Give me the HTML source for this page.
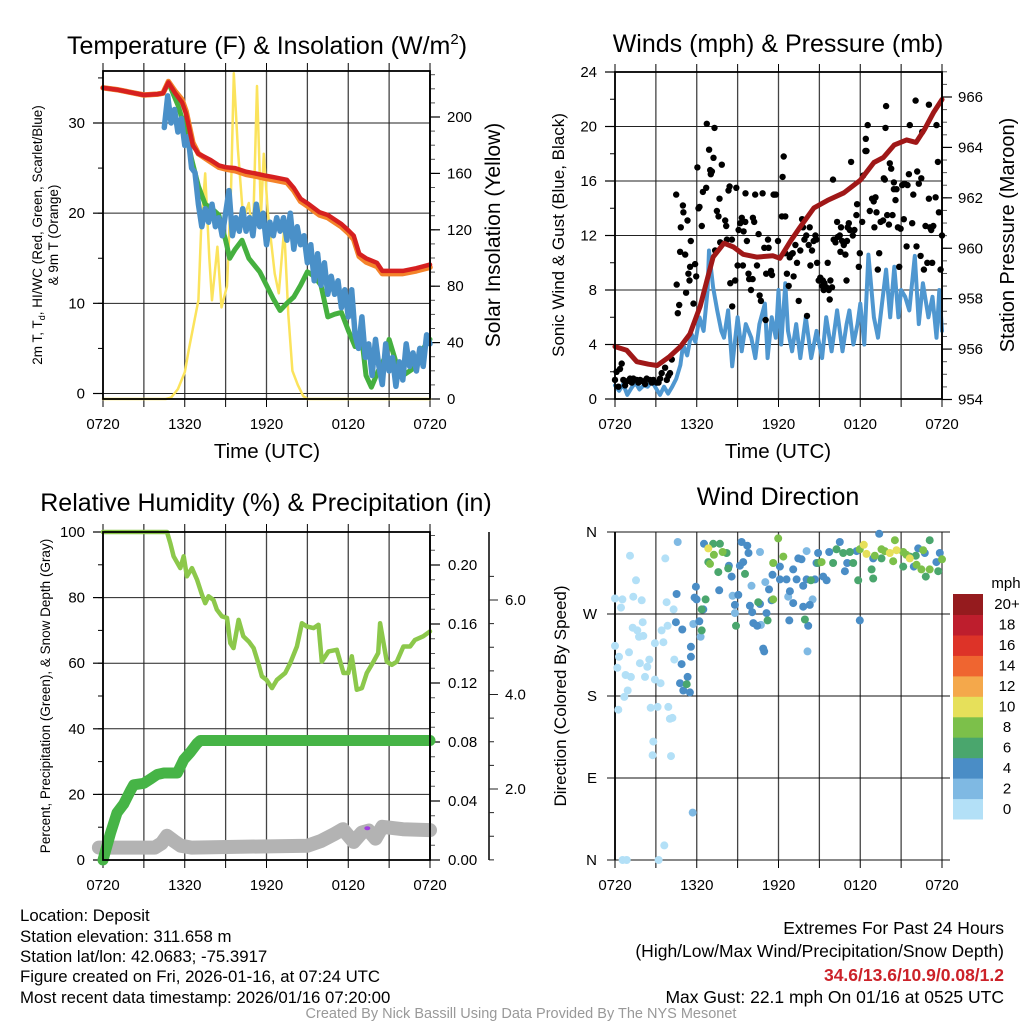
<!DOCTYPE html>
<html><head><meta charset="utf-8"><style>
html,body{margin:0;padding:0;background:#fff;}
svg{display:block;font-family:"Liberation Sans",Arial,sans-serif;}
</style></head><body>
<svg id="chart" width="1024" height="1024" viewBox="0 0 1024 1024" xmlns="http://www.w3.org/2000/svg">
<rect width="1024" height="1024" fill="#fff"/>
<g id="p1"></g>
<g id="p2"></g>
<g id="p3"></g>
<g id="p4"></g>

<text x="267" y="54" font-size="25" text-anchor="middle">Temperature (F) &amp; Insolation (W/m<tspan font-size="15" dy="-10">2</tspan><tspan dy="10">)</tspan></text>
<text x="267" y="458" font-size="20.5" text-anchor="middle">Time (UTC)</text>
<text transform="translate(42,235) rotate(-90)" font-size="13.5" text-anchor="middle">2m T, T<tspan font-size="9" dy="3">d</tspan><tspan dy="-3">, HI/WC (Red, Green, Scarlet/Blue)</tspan></text>
<text transform="translate(58,235) rotate(-90)" font-size="13.5" text-anchor="middle">&amp; 9m T (Orange)</text>
<text transform="translate(500,235) rotate(-90)" font-size="21" text-anchor="middle">Solar Insolation (Yellow)</text>

<text x="778" y="52" font-size="25" text-anchor="middle">Winds (mph) &amp; Pressure (mb)</text>
<text x="778" y="458" font-size="20.5" text-anchor="middle">Time (UTC)</text>
<text transform="translate(564,235) rotate(-90)" font-size="17" text-anchor="middle">Sonic Wind &amp; Gust (Blue, Black)</text>
<text transform="translate(1014,235) rotate(-90)" font-size="20" text-anchor="middle">Station Pressure (Maroon)</text>

<text x="266" y="511" font-size="25" text-anchor="middle">Relative Humidity (%) &amp; Precipitation (in)</text>
<text transform="translate(50,696) rotate(-90)" font-size="13.5" text-anchor="middle">Percent, Precipitation (Green), &amp; Snow Depth (Gray)</text>

<text x="778" y="505" font-size="25" text-anchor="middle">Wind Direction</text>
<text transform="translate(566,696) rotate(-90)" font-size="17" text-anchor="middle">Direction (Colored By Speed)</text>

<g font-size="16.8">
<text x="20" y="921">Location: Deposit</text>
<text x="20" y="942">Station elevation: 311.658 m</text>
<text x="20" y="962">Station lat/lon: 42.0683; -75.3917</text>
<text x="20" y="982">Figure created on Fri, 2026-01-16, at 07:24 UTC</text>
<text x="20" y="1003">Most recent data timestamp: 2026/01/16 07:20:00</text>
</g>
<g font-size="17.5" text-anchor="end">
<text x="1004" y="934">Extremes For Past 24 Hours</text>
<text x="1004" y="957">(High/Low/Max Wind/Precipitation/Snow Depth)</text>
<text x="1004" y="981" fill="#cc2229" font-weight="bold">34.6/13.6/10.9/0.08/1.2</text>
<text x="1004" y="1003">Max Gust: 22.1 mph On 01/16 at 0525 UTC</text>
</g>
<text x="521" y="1018" font-size="14.5" fill="#999" text-anchor="middle">Created By Nick Bassill Using Data Provided By The NYS Mesonet</text>
</svg>
<script>
// ---------- Panel 1 data ----------
const timeTicks = [0,6,12,18,24];
const timeTickLabels = ['0720','1320','1920','0120','0720'];
const tempTime = [0,1,2,3,4,4.4,4.8,5.3,5.8,6.1,6.6,7.0,7.9,8.5,9.0,9.7,10.5,11.2,11.8,12.5,13.5,14.0,14.5,15.0,15.9,16.5,17.0,17.5,18.0,18.4,18.8,19.3,20.1,20.5,21.0,22.0,23.0,24.0];
const temp2m = [33.9,33.7,33.4,33.1,33.2,33.3,34.5,33.3,32.3,31.0,27.5,26.6,25.9,25.3,25.1,25.0,24.6,24.4,24.2,24.0,23.7,22.8,21.6,21.1,20.1,19.8,19.3,18.8,18.1,17.5,15.5,15.0,14.5,13.6,13.6,13.6,13.9,14.3];
const temp9m = [33.9,33.7,33.4,33.1,33.2,33.3,34.6,33.5,32.6,31.3,27.8,26.6,25.7,25.1,24.9,24.7,24.3,24.1,23.9,23.7,23.4,22.5,21.3,20.8,19.8,19.5,19.0,18.5,17.8,17.1,15.2,14.6,14.1,13.3,13.3,13.3,13.6,14.0];
const dewTime = [0,1,2,3,4,4.4,4.8,5.5,6.0,6.5,7.0,7.5,8.0,8.5,9.0,9.3,9.7,10.2,10.7,11.5,12.0,12.5,13.0,13.5,14.0,14.5,15.0,15.5,16.0,16.5,17.0,17.5,18.0,18.5,19.0,19.3,19.7,20.2,20.7,21.0,21.5,22.0,22.5,23.0,23.5,24.0];
const dewPoint = [33.9,33.7,33.4,33.1,33.2,33.3,34.5,32.0,29.5,26.0,23.0,21.0,20.5,19.8,17.0,15.0,16.0,17.0,15.0,13.5,12.0,10.5,9.2,10.0,10.7,12.0,13.5,13.0,12.0,8.5,8.8,9.0,7.0,5.2,6.0,2.0,0.7,2.5,4.0,6.0,3.5,2.0,2.5,3.0,5.0,6.0];
const chillStart = 4.5, chillStep = 0.25;
const windChill = [29.5,33,30,31.5,29,30.5,27.5,28.5,25,24.5,21,18.5,20.5,19,21,18.5,19.5,17.5,20,22.5,17.5,19.5,18,20.5,18,19.5,17.5,21,18.5,20,16.5,19,17.5,19.5,18,19.5,17,20,16,18.5,16.5,17.5,14.5,16.5,12.5,15.5,12,14.5,11,13,11,12.5,9.5,11.5,8.5,11.5,6.5,5,8.5,4,5.5,2,6,3,1,5.5,2.5,4,0.8,3.5,1.5,5.5,3,4.5,2.5,5,3,6.5,5.5];
const solarTime = [0,4.6,5.0,5.5,6.0,6.3,6.7,7.0,7.2,7.5,7.8,8.0,8.4,8.7,9.1,9.4,9.6,9.9,10.3,10.7,11.0,11.3,11.6,11.8,12.1,12.6,12.9,13.3,13.6,13.9,14.3,14.7,15.0,24];
const solar = [0,0,1,7,19,35,55,70,120,160,100,70,108,65,80,150,231,177,127,139,115,222,130,174,132,89,75,121,60,20,10,2,0,0];
const tempTicks = [0,10,20,30];
const solarTicks = [0,40,80,120,160,200];

// ---------- Panel 2 data ----------
const windTime = [0,0.3,0.6,0.9,1.2,1.5,1.8,2.1,2.4,2.7,3.0,3.3,3.6,3.9,4.2,4.5,4.8,5.0,5.3,5.6,5.9,6.2,6.5,6.8,6.9,7.2,7.5,7.8,8.0,8.3,8.6,9.0,9.3,9.6,10.0,10.3,10.6,11.0,11.2,11.5,11.8,12.0,12.2,12.5,12.7,13.0,13.3,13.6,14.0,14.4,14.8,15.2,15.5,15.9,16.3,16.7,17.0,17.2,17.5,17.8,18.0,18.3,18.6,19.0,19.3,19.6,19.9,20.2,20.5,20.8,21.0,21.3,21.6,22.0,22.3,22.6,23.0,23.3,23.6,23.8,24.0];
const windSpeed = [1.0,0.6,1.1,0.3,0.8,1.2,0.7,1.0,0.9,1.3,0.8,0.3,0.9,0.4,0.9,1.5,2.5,4.0,3.2,4.8,4.2,6.0,5.0,8.0,10.9,8.2,6.5,5.0,4.5,6.5,2.4,6.0,3.5,5.5,4.5,3.0,5.5,7.0,3.0,6.0,4.5,8.0,4.0,8.5,5.0,3.5,5.5,3.0,6.0,3.0,5.0,3.0,6.0,3.5,6.5,3.5,5.5,6.5,4.0,5.5,7.0,4.0,10.6,6.0,4.5,7.0,9.5,6.0,9.7,6.0,8.0,7.5,6.5,10.5,5.5,8.5,6.0,7.5,4.5,8.0,5.0];
const pressTime = [0,0.86,1.6,2.45,3.1,4.0,4.8,5.5,6.25,6.74,7.2,8.0,8.7,9.4,10.4,11.6,12.1,12.9,13.6,14.6,15.6,16.8,18.0,19.0,19.7,20.5,21.4,22.1,22.7,23.4,24.0];
const pressure = [956.1,955.95,955.5,955.4,955.35,955.7,956.1,956.6,957.7,958.7,959.65,960.2,960.05,959.76,959.65,959.7,959.6,960.3,960.85,961.6,961.9,962.2,962.7,963.4,963.6,964.1,964.3,964.2,964.7,965.4,965.9];
const gustTime = [0,0.12,0.37,0.49,0.61,0.86,1.1,1.35,1.59,1.84,2.08,2.33,2.57,2.82,3.06,3.31,3.43,3.68,3.92,4.04,4.17,0.25,0.74,1.23,1.72,2.21,2.7,3.19,3.8,
4.49,4.98,5.02,5.32,4.83,4.78,5.15,5.56,5.51,5.39,5.47,5.22,4.53,4.71,4.61,5.88,5.96,5.76,6.05,6.13,6.2,6.37,6.45,6.69,6.74,7.30,6.91,7.23,6.99,7.03,7.11,7.35,7.48,7.6,7.67,7.84,7.72,8.09,8.16,8.33,8.41,8.21,8.58,8.46,8.6,8.82,8.9,9.0,9.07,9.19,9.31,9.44,9.56,9.39,9.58,9.68,9.8,9.85,9.98,10.1,10.12,10.22,10.29,10.42,10.54,10.61,10.71,10.83,10.96,11.05,11.1,11.23,11.27,11.45,11.52,11.64,11.69,11.81,11.96,12.25,12.3,12.38,12.5,12.5,12.62,12.75,12.82,12.92,13.04,13.11,13.24,13.36,13.48,13.6,13.73,13.8,13.9,14.04,14.09,14.22,14.29,14.34,14.46,14.58,14.71,14.78,14.83,14.95,15.07,15.2,15.25,15.32,15.37,15.51,15.61,15.69,15.76,15.81,15.93,16.0,16.05,16.18,16.3,16.35,16.5,16.54,16.59,16.67,16.79,16.91,16.99,17.03,17.08,17.16,17.23,17.33,17.45,17.57,17.72,17.77,17.89,17.97,18.14,18.21,18.38,18.41,18.46,18.55,18.7,18.87,18.99,19.04,19.12,19.19,19.29,19.39,19.49,19.68,19.73,19.8,19.85,19.9,19.98,20.1,20.17,20.27,20.37,20.47,20.47,20.59,20.66,20.76,20.86,20.96,21.08,21.2,21.25,21.4,21.47,21.57,21.64,21.81,21.89,22.06,22.13,22.18,22.3,22.43,22.48,22.55,22.67,22.79,22.92,23.04,23.04,23.11,23.21,23.28,23.36,23.53,23.6,23.7,23.77,23.9,24.0];
const gustSpeed = [1.4,2.0,2.2,2.6,1.4,1.3,1.5,1.5,1.4,1.4,1.3,1.5,1.4,1.4,1.2,1.5,1.9,2.3,1.7,1.9,2.9,0.9,1.0,1.2,1.2,1.1,1.2,1.2,1.4,
15.0,14.2,13.7,13.1,12.6,10.8,10.6,11.6,9.7,9.2,8.7,7.8,8.4,6.9,6.3,9.9,9.0,7.0,17.0,14.0,14.1,12.7,15.2,15.5,20.2,19.9,18.3,17.7,16.8,16.5,16.7,10.9,13.8,13.4,14.7,17.2,11.5,13.1,12.7,15.3,15.6,11.7,11.7,8.5,6.8,8.7,15.5,9.8,12.4,12.9,13.3,12.3,13.0,9.8,15.1,11.6,9.2,8.8,8.0,8.8,13.3,13.0,15.0,9.8,12.1,7.6,7.2,15.1,11.1,5.8,9.2,11.7,11.1,9.4,9.1,15.0,15.0,15.0,11.6,13.4,16.3,17.8,13.4,10.7,9.2,8.3,10.4,10.6,10.7,9.0,11.3,10.0,7.2,10.9,13.2,12.6,11.7,12.0,6.1,11.3,12.6,9.8,10.9,11.6,12.0,11.7,10.0,8.7,8.9,8.3,8.7,8.0,8.5,8.2,10.0,8.0,7.3,8.7,8.2,16.1,11.7,11.5,13.0,11.9,12.0,10.8,12.6,11.6,11.3,10.6,8.7,11.6,12.6,12.9,12.4,17.4,12.0,12.4,13.5,14.3,9.7,10.7,13.0,16.4,18.2,19.1,18.2,20.1,13.8,14.7,14.5,12.6,14.8,13.7,9.5,10.7,13.0,13.1,16.2,16.1,19.9,21.5,13.5,12.8,17.3,16.9,13.5,15.9,15.4,14.6,15.4,12.6,9.7,12.5,15.7,13.2,15.8,11.2,15.7,16.5,20.1,12.9,15.0,21.9,11.2,16.7,15.8,10.5,16.2,19.6,9.5,12.7,10.0,21.6,14.7,12.6,12.4,10.0,12.7,14.8,20.1,17.4,13.7,9.5,12.0];
const windTicks = [0,4,8,12,16,20,24];
const pressTicks = [954,956,958,960,962,964,966];

// ---------- Panel 3 data ----------
const rhTime = [0,4.7,4.94,5.18,5.67,5.92,6.16,6.53,6.9,7.26,7.5,7.75,8.1,8.36,8.73,9.1,9.34,9.58,9.95,10.3,10.7,11.05,11.4,11.66,12.0,12.4,12.76,13.37,13.74,14.23,14.6,14.96,15.45,15.82,16.06,16.55,17.16,17.65,18.0,18.26,18.63,19.0,19.36,19.85,20.2,20.34,20.83,21.2,21.56,22.05,22.54,22.9,23.5,24.0];
const rh = [100,100,96.6,92.6,89,92.6,86.5,89,85.5,80.9,78.3,80.4,79.3,76.3,74.3,73.8,66.1,64.6,73.2,68.2,66.6,64.6,60.0,56,54.9,52.4,54.9,57,60,65.1,72.2,71.2,70.7,71.7,60.5,63.6,64.1,57,57,62.1,51.9,52.4,57,60.5,63.1,72.2,60.5,59.5,60.5,65.1,65.1,67.1,68.2,69.7];
const precipTime = [0,0.54,1.03,1.52,2.01,2.25,3.0,3.5,3.98,4.47,5.45,5.92,6.41,6.9,7.14,24];
const precip = [0,0.018,0.032,0.038,0.047,0.051,0.052,0.055,0.058,0.059,0.059,0.068,0.073,0.079,0.081,0.081];
const snowTime = [-0.3,0,3.8,4.3,4.7,5.2,5.7,6.5,15.0,16.0,17.0,17.6,18.4,19.0,19.5,20.0,20.5,22.0,24.0];
const snowDepth = [0.76,0.76,0.76,0.85,1.01,0.9,0.8,0.76,0.8,0.9,1.05,1.15,0.88,1.08,1.12,0.95,1.2,1.15,1.13];
const rhTicks = [0,20,40,60,80,100];
const rhTickLabels = ['0','20','40','60','80','100'];
const precipTicks = [0,0.04,0.08,0.12,0.16,0.20];
const precipTickLabels = ['0.00','0.04','0.08','0.12','0.16','0.20'];
const snowTicks = [2,4,6];
const snowTickLabels = ['2.0','4.0','6.0'];

// ---------- Panel 4 data ----------
const dirTicks = [0,90,180,270,360];
const dirTickLabels = ['N','E','S','W','N'];
const calmTime = [0,0.54,0.44,1.10,1.54,1.34,1.96,1.30,1.64,1.76,2.08,2.03,0,0.29,0.17,1.03,0.78,1.17,1.83,2.37,2.52,2.20,0.93,0.68,0.24,2.62,3.13,2.93,3.35,2.76,2.81,3.91,4.03,4.21,4.11,2.93,3.55,3.42,3.86,3.79,4.30,4.35,3.69,0.56,0.86,3.20,3.62];
const calmDir = [287,286,277,334,307,289,285,255,252,245,246,261,235,223,211,228,203,201,216,212,220,201,186,179,165,167,168,198,194,115,130,168,155,156,114,238,239,252,257,283,275,220,331,0,0,0,16];
const lightTime = [4.60,10.64,10.02,8.63,8.80,10.71,14.06,14.50,12.71,11.03,5.75,6.28,14.13,5.70];
const lightDir = [349,338,301,290,271,258,339,286,289,305,259,245,229,52];
const modTime = [6.53,9.29,9.71,9.80,7.65,8.36,8.56,9.17,9.41,9.05,8.80,9.90,10.15,10.44,10.07,10.64,11.12,11.30,11.56,10.88,10.95,11.49,12.10,12.10,12.59,12.84,13.08,13.45,13.69,13.08,13.33,13.81,14.06,14.67,13.81,14.30,14.18,12.79,14.91,15.28,15.53,15.72,14.79,16.50,16.87,17.04,17.73,17.97,19.39,18.95,22.25,22.74,23.84,23.59,21.93,4.52,4.47,4.94,5.94,5.84,5.99,6.48,5.57,5.57,4.89,5.33,4.77,5.01,5.50,6.19];
const modDir = [347,349,345,337,296,323,311,323,327,291,280,279,260,257,272,281,271,297,313,232,229,285,322,308,308,295,282,331,330,319,308,301,308,308,278,280,257,263,337,311,307,338,326,349,317,326,339,263,358,331,342,337,337,327,322,292,261,253,300,288,286,275,234,223,215,201,194,186,184,262];
const freshTime = [7.21,7.70,8.19,8.31,7.58,6.85,9.54,6.65,6.36,6.36,8.88,10.51,11.20,13.94,14.38,14.91,16.01,16.26,16.75,17.24,17.48,17.85,18.95,18.83,19.56,21.15,21.64,22.81,23.10,23.72,22.08,5.26];
const freshDir = [347,347,337,320,316,327,314,286,275,252,257,283,263,264,307,326,326,341,337,338,326,307,309,319,331,322,333,311,351,317,334,193];
const breezyTime = [6.97,7.26,7.90,11.98,12.35,11.61,11.61,15.16,19.56,20.54,20.42,21.15,22.49,22.62,23.10,24.0,22.13,21.39,17.97,19.07,19.80];
const breezyDir = [325,335,338,353,333,286,326,327,341,351,328,338,319,340,319,330,324,335,341,334,339];
const windyTime = [6.85,18.26,18.46,20.17,21.64,20.66];
const windyDir = [342,346,336,337,331,340];
const groupSpeeds = [0.5,2,4,6,8,10];
const colorBins = ['#b3e0f7','#7fb9e3','#4a8dc6','#4aa66d','#7cc04a','#e6e05a','#f4a84b','#ef6530','#dd3328','#be1e2d','#951b1e'];
const colorLabels = ['0','2','4','6','8','10','12','14','16','18','20+'];

// ---------- helpers ----------
const NS = 'http://www.w3.org/2000/svg';
function mk(parent, tag, attrs, text) {
  const e = document.createElementNS(NS, tag);
  for (const k in attrs) e.setAttribute(k, attrs[k]);
  if (text !== undefined) e.textContent = text;
  parent.appendChild(e);
  return e;
}
function lin(d0, d1, r0, r1) { return v => r0 + (v - d0) * (r1 - r0) / (d1 - d0); }
function pathD(xs, ys, fx, fy) {
  return xs.map((t, i) => (i ? 'L' : 'M') + fx(t).toFixed(1) + ',' + fy(ys[i]).toFixed(1)).join('');
}
function timeAxis(g, x0, x1, yTop, yBot, xs, labelY, tickTop) {
  for (let h = 0; h <= 24; h += 3) {
    const x = xs(h);
    const gl = mk(g, 'line', {x1: x, x2: x, y1: yTop, y2: yBot, stroke: '#444', 'stroke-width': 1.3});
    
    
    if (tickTop) mk(g, 'line', {x1: x, x2: x, y1: yTop - 8, y2: yTop, stroke: '#000', 'stroke-width': 1});
    const tk = mk(g, 'line', {x1: x, x2: x, y1: yBot, y2: yBot + 8, stroke: '#000', 'stroke-width': 1});
    
    
  }
  timeTicks.forEach((h, i) => {
    const t = mk(g, 'text', {x: xs(h), y: labelY, 'font-size': 15, 'text-anchor': 'middle'}, timeTickLabels[i]);
    
    
  });
}
function leftAxis(g, x, ticks, labels, fy, minorStep, gridX1, minorMin, minorMax) {
  for (let v = minorMin; v <= minorMax + 1e-9; v += minorStep) {
    mk(g, 'line', {x1: x - 5, x2: x, y1: fy(v), y2: fy(v), stroke: '#000', 'stroke-width': 1});
  }
  ticks.forEach((v, i) => {
    const y = fy(v);
    const gl = mk(g, 'line', {x1: x, x2: gridX1, y1: y, y2: y, stroke: '#222', 'stroke-width': 1});
    
    
    mk(g, 'line', {x1: x - 10, x2: x, y1: y, y2: y, stroke: '#000', 'stroke-width': 1.2});
    const t = mk(g, 'text', {x: x - 18, y: y + 5, 'font-size': 15, 'text-anchor': 'end'}, labels[i]);
    
    
  });
}
function rightAxis(g, x, ticks, labels, fy, minorStep, minorMin, minorMax, labelX) {
  mk(g, 'line', {x1: x, x2: x, y1: fy(minorMin), y2: fy(minorMax), stroke: '#000', 'stroke-width': 1.5});
  for (let v = minorMin; v <= minorMax + 1e-9; v += minorStep) {
    mk(g, 'line', {x1: x, x2: x + 5, y1: fy(v), y2: fy(v), stroke: '#555', 'stroke-width': 1});
  }
  ticks.forEach((v, i) => {
    const y = fy(v);
    mk(g, 'line', {x1: x, x2: x + 10, y1: y, y2: y, stroke: '#000', 'stroke-width': 1.2});
    const t = mk(g, 'text', {x: labelX, y: y + 5, 'font-size': 15}, labels[i]);
    
    
  });
}
function frame(g, x0, y0, x1, y1) {
  mk(g, 'rect', {x: x0, y: y0, width: x1 - x0, height: y1 - y0, fill: 'none', stroke: '#000', 'stroke-width': 1.8});
}
function line(g, d, color, w, name) {
  const p = mk(g, 'path', {d: d, fill: 'none', stroke: color, 'stroke-width': w, 'stroke-linejoin': 'round', 'stroke-linecap': 'round'});
  
  
  return p;
}

// ---------- Panel 1 ----------
(function () {
  const g = document.getElementById('p1');
  const X0 = 103, X1 = 430, Y0 = 71, Y1 = 399;
  const xs = lin(0, 24, X0, X1);
  const yT = lin(0, 30, 393.5, 123);
  const yS = lin(0, 200, 399, 117);
  timeAxis(g, X0, X1, Y0, Y1, xs, 429, true);
  leftAxis(g, X0, tempTicks, tempTicks.map(String), yT, 5, X1, 0, 35);
  rightAxis(g, X1, solarTicks, solarTicks.map(String), yS, 10, 0, 230, 447);
  line(g, pathD(solarTime, solar, xs, yS), '#fbe35c', 2.5, 'solar-insolation-line');
  line(g, pathD(dewTime, dewPoint, xs, yT), '#45b03f', 5, 'dewpoint-line');
  const ct = windChill.map((v, i) => chillStart + i * chillStep);
  line(g, pathD(ct, windChill, xs, yT), '#4a90c8', 5.5, 'wind-chill-line');
  line(g, pathD(tempTime, temp9m, xs, yT), '#f4832a', 5.5, 'temp-9m-line');
  line(g, pathD(tempTime, temp2m, xs, yT), '#d62020', 4.5, 'temp-2m-line');
  frame(g, X0, Y0, X1, Y1);
})();

// ---------- Panel 2 ----------
(function () {
  const g = document.getElementById('p2');
  const X0 = 615, X1 = 942, Y0 = 72, Y1 = 399;
  const xs = lin(0, 24, X0, X1);
  const yW = lin(0, 24, 399, 72);
  const yP = lin(954, 966, 399.5, 97);
  timeAxis(g, X0, X1, Y0, Y1, xs, 429, true);
  leftAxis(g, X0, windTicks, windTicks.map(String), yW, 2, X1, 0, 24);
  rightAxis(g, X1, pressTicks, pressTicks.map(String), yP, 0.5, 954, 967, 958);
  line(g, pathD(windTime, windSpeed, xs, yW), '#4f97d0', 4, 'sonic-wind-line');
  gustTime.forEach((t, i) => {
    const c = mk(g, 'circle', {cx: xs(t).toFixed(1), cy: yW(gustSpeed[i]).toFixed(1), r: 3.2, fill: '#000'});
    
    
  });
  line(g, pathD(pressTime, pressure, xs, yP), '#a01818', 5, 'pressure-line');
  frame(g, X0, Y0, X1, Y1);
})();

// ---------- Panel 3 ----------
(function () {
  const g = document.getElementById('p3');
  const X0 = 103, X1 = 430, Y0 = 532, Y1 = 860;
  const xs = lin(0, 24, X0, X1);
  const yR = lin(0, 100, 860, 532);
  const yPr = lin(0, 0.2, 860, 565);
  const ySn = lin(0, 2, 883.5, 789);
  timeAxis(g, X0, X1, Y0, Y1, xs, 890, true);
  leftAxis(g, X0, rhTicks, rhTickLabels, yR, 10, X1, 0, 100);
  rightAxis(g, X1, precipTicks, precipTickLabels, yPr, 0.01, 0, 0.22, 448);
  mk(g, 'line', {x1: 489, x2: 489, y1: 532, y2: 860, stroke: '#000', 'stroke-width': 1.5});
  for (let v = 0.5; v <= 6.9; v += 0.5) {
    const major = snowTicks.indexOf(v) >= 0;
    mk(g, 'line', {x1: 489, x2: 489 + (major ? 9 : 5), y1: ySn(v), y2: ySn(v), stroke: '#222', 'stroke-width': 1});
  }
  snowTicks.forEach((v, i) => {
    const t = mk(g, 'text', {x: 505, y: ySn(v) + 5, 'font-size': 15}, snowTickLabels[i]);
    
    
  });
  line(g, pathD(snowTime, snowDepth, xs, ySn), '#b3b3b3', 14, 'snow-depth-line');
  const m = mk(g, 'ellipse', {cx: xs(19.4), cy: ySn(1.17), rx: 3, ry: 2, fill: '#a040e0'});
  
  
  line(g, pathD(precipTime, precip, xs, yPr), '#46b446', 11, 'precipitation-line');
  line(g, pathD(rhTime, rh, xs, yR), '#8cc84b', 4.5, 'relative-humidity-line');
  frame(g, X0, Y0, X1, Y1);
})();

// ---------- Panel 4 ----------
(function () {
  const g = document.getElementById('p4');
  const X0 = 615, X1 = 942, Y0 = 532, Y1 = 860;
  const xs = lin(0, 24, X0, X1);
  const yD = lin(0, 360, 860, 532);
  timeAxis(g, X0, X1, Y0, Y1, xs, 890, false);
  dirTicks.forEach((v, i) => {
    const y = yD(v);
    mk(g, 'line', {x1: X0 - 8, x2: X1 + 8, y1: y, y2: y, stroke: '#111', 'stroke-width': 1});
    const t = mk(g, 'text', {x: 597, y: y + 5, 'font-size': 15, 'text-anchor': 'end'}, dirTickLabels[i]);
    
    
  });
  mk(g, 'line', {x1: X0, x2: X0, y1: Y0, y2: Y1, stroke: '#000', 'stroke-width': 1.8});
  const groups = [[calmTime, calmDir], [lightTime, lightDir], [modTime, modDir], [freshTime, freshDir], [breezyTime, breezyDir], [windyTime, windyDir]];
  groups.forEach((grp, gi) => {
    const bin = Math.min(10, Math.round(groupSpeeds[gi] / 2));
    grp[0].forEach((t, i) => {
      const c = mk(g, 'circle', {cx: xs(t).toFixed(1), cy: yD(grp[1][i]).toFixed(1), r: 4, fill: colorBins[bin]});
      
      
    });
  });
  const cb = mk(g, 'g', {});
  
  
  const bh = (819 - 594) / colorBins.length;
  colorBins.forEach((c, i) => {
    const y = 819 - (i + 1) * bh;
    const r = mk(cb, 'rect', {x: 953, y: y.toFixed(1), width: 30, height: (bh + 0.5).toFixed(1), fill: c});
    
    
    const t = mk(cb, 'text', {x: 1007, y: (y + bh / 2 + 5).toFixed(1), 'font-size': 15, 'text-anchor': 'middle'}, colorLabels[i]);
    
    
  });
  const u = mk(cb, 'text', {x: 1006, y: 588, 'font-size': 15, 'text-anchor': 'middle'}, 'mph');
  
  
})();
</script>
</body></html>
